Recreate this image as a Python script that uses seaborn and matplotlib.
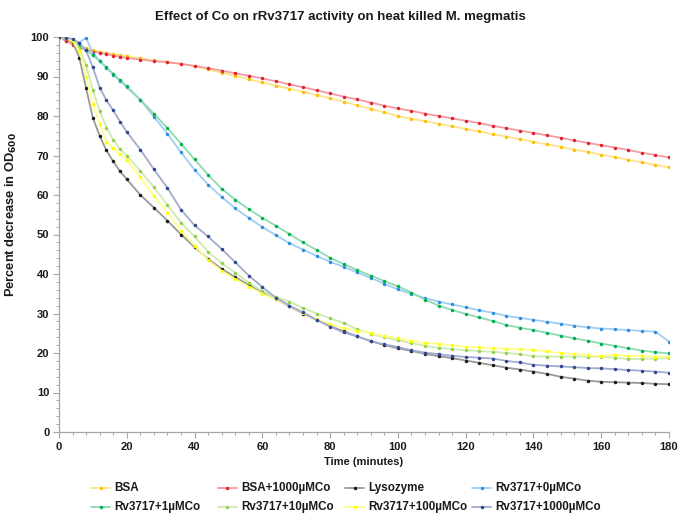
import numpy as np
import pandas as pd
import matplotlib
matplotlib.use("Agg")
import matplotlib.pyplot as plt
import seaborn as sns
from matplotlib.ticker import MultipleLocator
from matplotlib.lines import Line2D

time_min = [0, 2, 4, 6, 8, 10, 12, 14, 16, 18, 20, 24, 28, 32, 36, 40, 44, 48, 52, 56,
            60, 64, 68, 72, 76, 80, 84, 88, 92, 96, 100, 104, 108, 112, 116, 120, 124,
            128, 132, 136, 140, 144, 148, 152, 156, 160, 164, 168, 172, 176, 180]

bsa = [100, 99.3, 98.5, 97.7, 97.1, 96.7, 96.3, 96.0, 95.7, 95.4, 95.1, 94.6, 94.1, 93.7,
       93.2, 92.6, 91.8, 91.0, 90.2, 89.3, 88.5, 87.7, 86.9, 86.1, 85.3, 84.5, 83.6, 82.7,
       81.8, 80.9, 80.0, 79.3, 78.7, 78.0, 77.4, 76.7, 76.1, 75.4, 74.8, 74.1, 73.5, 72.8,
       72.2, 71.5, 70.9, 70.2, 69.6, 68.9, 68.3, 67.6, 67.0]
bsa_1000 = [100, 99.0, 98.1, 97.3, 96.7, 96.3, 96.0, 95.7, 95.3, 95.0, 94.7, 94.3, 93.9,
            93.6, 93.2, 92.7, 92.1, 91.5, 90.8, 90.2, 89.5, 88.8, 88.0, 87.3, 86.5, 85.7,
            84.9, 84.2, 83.4, 82.6, 81.9, 81.3, 80.6, 80.0, 79.4, 78.8, 78.2, 77.5, 76.9,
            76.3, 75.7, 75.1, 74.5, 73.8, 73.2, 72.6, 72.0, 71.4, 70.7, 70.1, 69.5]
lysozyme = [100, 99.8, 98.8, 94.8, 87.0, 79.5, 75.0, 71.3, 68.5, 66.0, 64.0, 60.0, 56.8,
            53.5, 50.0, 46.8, 43.8, 41.3, 39.2, 37.2, 35.3, 33.6, 31.8, 30.0, 28.4, 26.8,
            25.5, 24.2, 23.0, 22.0, 21.2, 20.5, 19.8, 19.2, 18.7, 18.1, 17.5, 16.9, 16.3,
            15.8, 15.3, 14.7, 14.0, 13.5, 13.0, 12.7, 12.6, 12.5, 12.4, 12.2, 12.1]
rv_0 = [100, 99.7, 99.2, 98.6, 99.8, 95.8, 94.0, 92.2, 90.5, 88.9, 87.3, 84.1, 79.8, 75.5,
        70.8, 66.4, 62.6, 59.5, 56.6, 54.2, 51.9, 49.8, 47.8, 46.2, 44.6, 43.1, 41.8, 40.4,
        39.0, 37.5, 36.1, 35.0, 33.9, 33.0, 32.3, 31.6, 30.8, 30.2, 29.4, 28.9, 28.4, 27.9,
        27.4, 26.9, 26.5, 26.2, 26.0, 25.8, 25.6, 25.4, 22.9]
rv_1 = [100, 99.7, 99.0, 98.0, 96.8, 95.4, 93.9, 92.3, 90.7, 89.1, 87.5, 84.1, 80.6, 76.9,
        73.0, 69.0, 65.1, 61.6, 58.8, 56.4, 54.2, 52.2, 50.1, 48.0, 46.1, 44.1, 42.5, 41.0,
        39.6, 38.2, 36.9, 35.3, 33.5, 32.0, 30.9, 29.9, 29.0, 28.1, 27.1, 26.4, 25.8, 25.1,
        24.4, 23.7, 23.1, 22.4, 21.8, 21.2, 20.6, 20.2, 19.9]
rv_10 = [100, 99.8, 99.3, 97.3, 92.8, 86.5, 81.3, 77.0, 74.0, 71.6, 70.0, 66.1, 62.0, 57.5,
         53.0, 49.5, 45.6, 42.8, 40.3, 37.8, 35.7, 34.2, 33.0, 31.4, 30.0, 28.8, 27.6, 26.0,
         24.9, 24.0, 23.2, 22.5, 21.8, 21.3, 21.0, 20.7, 20.5, 20.3, 20.0, 19.7, 19.2, 19.1,
         19.1, 19.1, 19.1, 19.1, 18.8, 18.5, 18.5, 18.6, 18.7]
rv_100 = [100, 99.8, 99.0, 96.5, 90.0, 83.0, 78.0, 73.5, 71.8, 70.3, 68.8, 64.5, 59.8, 55.5,
          51.0, 47.2, 43.5, 40.8, 38.7, 36.8, 35.0, 33.6, 31.9, 30.2, 28.5, 27.3, 26.3, 25.6,
          25.0, 24.3, 23.7, 23.1, 22.6, 22.3, 21.9, 21.6, 21.4, 21.2, 21.1, 20.9, 20.8, 20.4,
          20.0, 19.8, 19.5, 19.2, 19.6, 19.2, 19.3, 19.0, 19.1]
rv_1000 = [100, 99.8, 99.5, 98.5, 96.6, 92.3, 87.2, 84.0, 81.4, 78.6, 76.0, 71.5, 66.5, 61.8,
           56.3, 52.3, 49.5, 46.3, 43.0, 39.6, 36.7, 34.0, 32.0, 30.3, 28.4, 26.7, 25.2, 24.2,
           23.0, 22.2, 21.5, 20.7, 20.1, 19.7, 19.3, 19.0, 18.8, 18.6, 18.0, 17.6, 17.0, 16.8,
           16.6, 16.4, 16.2, 16.1, 15.9, 15.7, 15.5, 15.3, 15.0]

series_names = ["BSA", "BSA+1000µMCo", "Lysozyme", "Rv3717+0µMCo",
                "Rv3717+1µMCo", "Rv3717+10µMCo", "Rv3717+100µMCo", "Rv3717+1000µMCo"]
series_values = [bsa, bsa_1000, lysozyme, rv_0, rv_1, rv_10, rv_100, rv_1000]
series_colors = ["#FFC000", "#E3202E", "#1A1A1A", "#2E8FE0",
                 "#00B050", "#92D050", "#FFFF00", "#2F4590"]

sns.set_theme(style="white")
plt.rcParams["font.family"] = ["Liberation Sans", "DejaVu Sans"]

W, H = 680, 522
fig = plt.figure(figsize=(W / 100, H / 100), dpi=100)
ax = fig.add_axes([59 / W, 1 - 432 / H, 610 / W, 395 / H])


def pale_of(col, k=0.55):
    rgb = np.array(matplotlib.colors.to_rgb(col))
    return tuple(rgb + (1 - rgb) * k)


for name, vals, col in zip(series_names, series_values, series_colors):
    df = pd.DataFrame({"t": time_min, "v": vals})
    sns.lineplot(data=df, x="t", y="v", ax=ax, color=pale_of(col), linewidth=1.3,
                 marker="o", markersize=2.5, markerfacecolor=col,
                 markeredgecolor=col, markeredgewidth=0, zorder=3)

ax.set_xlim(0, 180)
ax.set_ylim(0, 100)
ax.xaxis.set_major_locator(MultipleLocator(20))
ax.xaxis.set_minor_locator(MultipleLocator(4))
ax.yaxis.set_major_locator(MultipleLocator(10))
ax.yaxis.set_minor_locator(MultipleLocator(2))
for s in ["top", "right"]:
    ax.spines[s].set_visible(False)
for s in ["left", "bottom"]:
    ax.spines[s].set_color("#A6A6A6")
    ax.spines[s].set_linewidth(0.9)
ax.tick_params(axis="both", which="major", direction="out", length=4, width=0.8,
               color="#A6A6A6", labelsize=8, pad=3, bottom=True, left=True)
ax.tick_params(axis="both", which="minor", direction="out", length=2.5, width=0.7,
               color="#A6A6A6", bottom=True, left=True)
for lab in ax.get_xticklabels() + ax.get_yticklabels():
    lab.set_fontweight("bold")
    lab.set_color("#1A1A1A")

ax.set_xlabel("Time (minutes)", fontsize=8, fontweight="bold", color="#1A1A1A", labelpad=4)
ax.set_ylabel("Percent decrease in OD$_{\\mathbf{600}}$", fontsize=9.3, fontweight="bold",
              color="#1A1A1A")
ax.yaxis.set_label_coords(-0.066, 0.55)
fig.text(0.5, 1 - 17 / H, "Effect of Co on rRv3717 activity on heat killed M. megmatis",
         ha="center", va="center", fontsize=9.5, fontweight="bold", color="#1A1A1A")

# legend laid out in equal-width columns, two rows
for i, (name, col) in enumerate(zip(series_names, series_colors)):
    c, r = i % 4, i // 4
    x0 = 91 + 127 * c
    y0 = 488 + 19 * r
    fig.add_artist(Line2D([x0 / W, (x0 + 19) / W], [1 - y0 / H, 1 - y0 / H],
                          transform=fig.transFigure, color=pale_of(col), linewidth=1.3))
    fig.add_artist(Line2D([(x0 + 9.5) / W], [1 - y0 / H], transform=fig.transFigure,
                          linestyle="none", marker="o", markersize=2.5,
                          markerfacecolor=col, markeredgecolor=col, markeredgewidth=0))
    fig.text((x0 + 23) / W, 1 - y0 / H, name, ha="left", va="center", fontsize=8.4,
             fontweight="bold", color="#1A1A1A")

fig.savefig("out.png", dpi=100)
